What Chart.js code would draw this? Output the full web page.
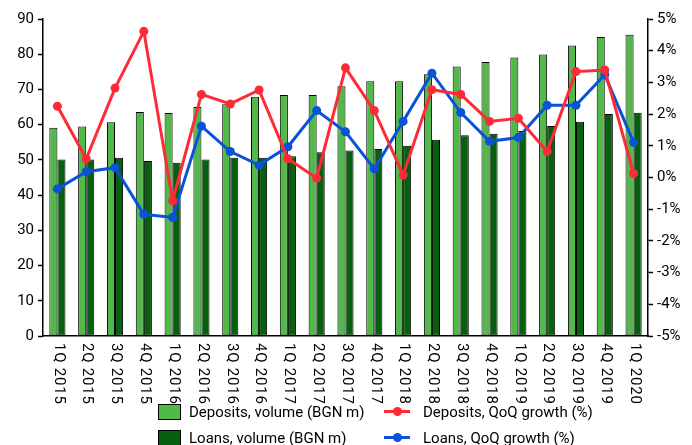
<!DOCTYPE html>
<html>
<head>
<meta charset="utf-8">
<script src="https://cdn.jsdelivr.net/npm/chart.js"></script>
<style>
  html, body { margin: 0; padding: 0; background: #fff; overflow: hidden; }
  #wrap { position: relative; width: 692px; height: 445px; }
  #legend { position: absolute; left: 0; top: 0; width: 692px; height: 445px; pointer-events: none;
    font-family: Roboto, "DejaVu Sans", sans-serif; font-size: 15px; color: #000; }
  .item { position: absolute; white-space: nowrap; line-height: 18px; }
  .box { position: absolute; width: 23px; height: 16px; border: 1px solid #000; box-sizing: border-box; }
  .ln { position: absolute; width: 26px; height: 3px; }
  .dot { position: absolute; width: 9px; height: 9px; border-radius: 50%; }
</style>
</head>
<body>
<div id="wrap">
  <canvas id="chart" width="692" height="445"></canvas>
  <div id="legend"></div>
</div>
<script>
// categorias y valores
const quarters = ['1Q 2015', '2Q 2015', '3Q 2015', '4Q 2015', '1Q 2016', '2Q 2016', '3Q 2016', '4Q 2016',
  '1Q 2017', '2Q 2017', '3Q 2017', '4Q 2017', '1Q 2018', '2Q 2018', '3Q 2018', '4Q 2018',
  '1Q 2019', '2Q 2019', '3Q 2019', '4Q 2019', '1Q 2020'];

const depositsVolume = [59.1, 59.5, 60.7, 63.6, 63.3, 65.0, 65.8, 67.9, 68.4, 68.4, 70.9,
  72.3, 72.3, 74.3, 76.5, 77.8, 79.1, 79.9, 82.5, 84.9, 85.5];
const loansVolume = [50.1, 50.1, 50.6, 49.7, 49.2, 50.1, 50.6, 50.6, 51.0, 52.2, 52.7,
  53.1, 54.0, 55.7, 57.0, 57.4, 58.2, 59.6, 60.8, 63.0, 63.4];

const depositsGrowth = [2.25, 0.59, 2.82, 4.61, -0.73, 2.62, 2.32, 2.76, 0.59, -0.02, 3.46,
  2.11, 0.08, 2.77, 2.62, 1.77, 1.87, 0.82, 3.34, 3.39, 0.13];
const loansGrowth = [-0.36, 0.18, 0.31, -1.16, -1.26, 1.62, 0.82, 0.39, 0.97, 2.11, 1.44,
  0.27, 1.77, 3.29, 2.05, 1.14, 1.26, 2.28, 2.28, 3.24, 1.11];

const volumeTicks = [0, 10, 20, 30, 40, 50, 60, 70, 80, 90];
const growthTicks = [-5, -4, -3, -2, -1, 0, 1, 2, 3, 4, 5];

const LIGHT = '#52b849';
const DARK = '#07600f';
const RED = '#fe2a36';
const BLUE = '#0a52d8';
const FONT = 'Roboto, "DejaVu Sans", sans-serif';

// etiquetas del eje x giradas en sentido horario
const rotatedLabels = {
  id: 'rotatedLabels',
  afterDraw(chart) {
    const x = chart.scales.x;
    const ctx = chart.ctx;
    ctx.save();
    ctx.font = '15px ' + FONT;
    ctx.letterSpacing = '0.8px';
    ctx.fillStyle = '#000';
    ctx.textAlign = 'left';
    ctx.textBaseline = 'middle';
    quarters.forEach((q, i) => {
      ctx.save();
      ctx.translate(x.getPixelForTick(i) + 1, x.top + 7);
      ctx.rotate(Math.PI / 2);
      ctx.fillText(q, 0, 0);
      ctx.restore();
    });
    ctx.restore();
  }
};

const chart = new Chart(document.getElementById('chart'), {
  type: 'bar',
  data: {
    labels: quarters,
    datasets: [
      { type: 'line', label: 'Deposits, QoQ growth (%)', data: depositsGrowth, yAxisID: 'y2',
        borderColor: RED, backgroundColor: RED, borderWidth: 3, pointRadius: 4.5,
        pointBackgroundColor: RED, pointBorderWidth: 0, tension: 0, order: 0 },
      { type: 'line', label: 'Loans, QoQ growth (%)', data: loansGrowth, yAxisID: 'y2',
        borderColor: BLUE, backgroundColor: BLUE, borderWidth: 3, pointRadius: 4.5,
        pointBackgroundColor: BLUE, pointBorderWidth: 0, tension: 0, order: 1 },
      { label: 'Deposits, volume (BGN m)', data: depositsVolume, yAxisID: 'y',
        backgroundColor: LIGHT, borderColor: '#000', borderWidth: 1, borderSkipped: false, order: 2 },
      { label: 'Loans, volume (BGN m)', data: loansVolume, yAxisID: 'y',
        backgroundColor: DARK, borderColor: '#000', borderWidth: 1, borderSkipped: false, order: 3 }
    ]
  },
  options: {
    responsive: false,
    animation: false,
    layout: { padding: { top: 19, left: 0, right: 0, bottom: 0 } },
    categoryPercentage: 0.56,
    barPercentage: 1,
    plugins: { legend: { display: false }, tooltip: { enabled: false } },
    scales: {
      x: {
        grid: { display: false },
        border: { display: true, color: '#000', width: 1.5 },
        ticks: { display: false },
        afterFit(s) { s.height = 109; }
      },
      y: {
        position: 'left',
        min: 0, max: 90,
        afterBuildTicks(s) { s.ticks = volumeTicks.map(v => ({ value: v })); },
        grid: { drawOnChartArea: false, color: '#000', tickLength: 5, tickWidth: 1.5 },
        border: { color: '#000', width: 1.5 },
        ticks: { color: '#000', font: { size: 15, family: FONT }, padding: 4 },
        afterFit(s) { s.width = 43; }
      },
      y2: {
        position: 'right',
        min: -5, max: 5,
        afterBuildTicks(s) { s.ticks = growthTicks.map(v => ({ value: v })); },
        grid: { drawOnChartArea: false, color: '#000', tickLength: 5, tickWidth: 1.5 },
        border: { color: '#000', width: 1.5 },
        ticks: { color: '#000', font: { size: 15, family: FONT }, padding: 4,
          callback: v => v + '%' },
        afterFit(s) { s.width = 44; }
      }
    }
  },
  plugins: [rotatedLabels]
});

// leyenda en dos columnas, como en el original
function buildLegend() {
  const el = document.getElementById('legend');
  const ds = chart.data.datasets;
  const slots = [
    { d: ds[2], x: 158, y: 412, kind: 'box' },
    { d: ds[0], x: 384, y: 412, kind: 'line' },
    { d: ds[3], x: 158, y: 438, kind: 'box' },
    { d: ds[1], x: 384, y: 438, kind: 'line' }
  ];
  slots.forEach(s => {
    const item = document.createElement('div');
    item.className = 'item';
    item.style.left = s.x + 'px';
    item.style.top = (s.y - 9) + 'px';
    let html = '';
    if (s.kind === 'box') {
      html += '<span class="box" style="left:0;top:1px;background:' + s.d.backgroundColor + '"></span>';
      html += '<span style="position:absolute;left:31px;top:0">' + s.d.label + '</span>';
    } else {
      html += '<span class="ln" style="left:0;top:7px;background:' + s.d.borderColor + '"></span>';
      html += '<span class="dot" style="left:9px;top:4px;background:' + s.d.borderColor + '"></span>';
      html += '<span style="position:absolute;left:39px;top:0">' + s.d.label + '</span>';
    }
    item.innerHTML = html;
    el.appendChild(item);
  });
}
buildLegend();
</script>
</body>
</html>
